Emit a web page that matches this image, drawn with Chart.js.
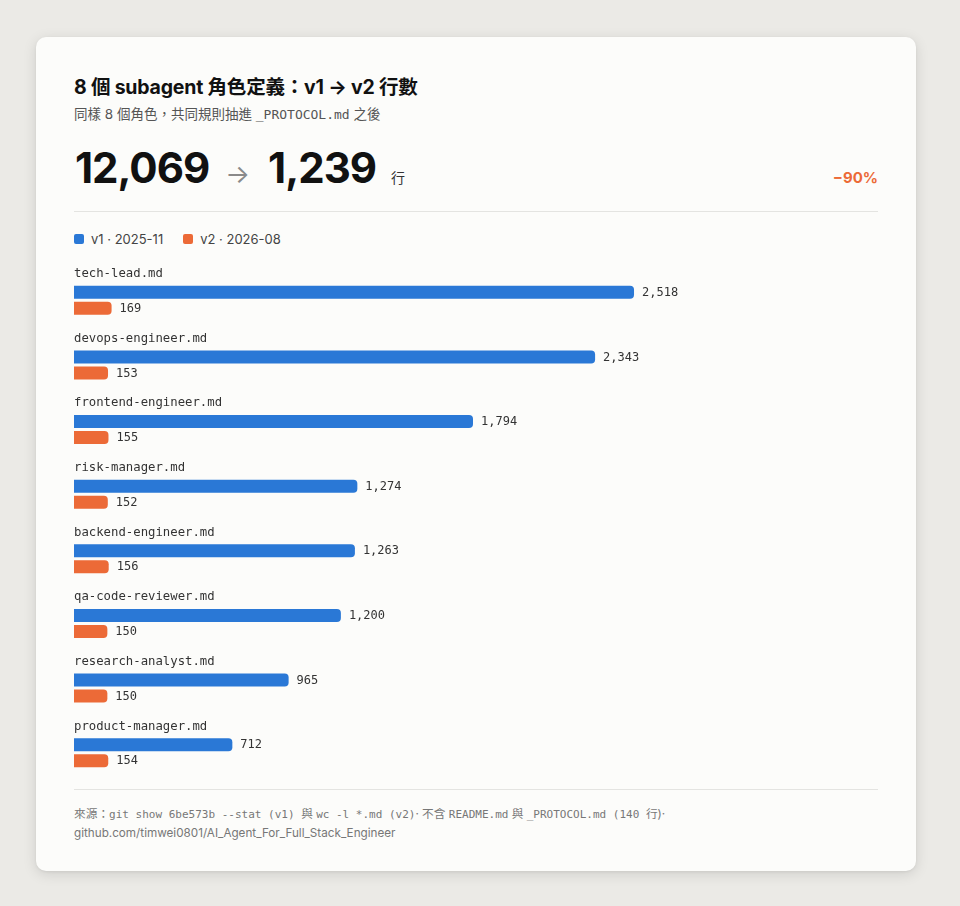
<!DOCTYPE html>
<html>
<head>
<meta charset="utf-8">
<script src="https://cdn.jsdelivr.net/npm/chart.js@4/dist/chart.umd.min.js"></script>
<style>
  html, body { margin: 0; padding: 0; }
  body {
    width: 960px; height: 906px; background: #ebeae6; position: relative;
    font-family: Inter, "Noto Sans CJK TC", sans-serif; color: #111;
  }
  .card {
    position: absolute; left: 36px; top: 37px; width: 880px; height: 834px;
    background: #fcfcfa; border-radius: 10px;
    box-shadow: 0 3px 14px rgba(0,0,0,0.12), 0 1px 3px rgba(0,0,0,0.06);
  }
  .mono { font-family: "DejaVu Sans Mono", "Noto Sans CJK TC", monospace; }
  .abs { position: absolute; }
  #title { left: 74px; top: 71px; font-size: 19.5px; font-weight: 700; letter-spacing: -0.2px; }
  #subtitle { left: 74px; top: 103px; font-size: 13.5px; color: #555; }
  #subtitle .mono { font-size: 13px; }
  #big { left: 75px; top: 142px; display: flex; align-items: baseline; white-space: nowrap; }
  #big .num { font-size: 42px; font-weight: 700; letter-spacing: -1.0px; }
  #big .arr { font-size: 26px; color: #8a8a8a; margin: 0 18px 0 16px; }
  #big .unit { font-size: 14px; color: #333; margin-left: 15px; }
  #pct { right: 82px; top: 168px; font-size: 15px; font-weight: 700; color: #ec6a37; }
  .rule { left: 74px; width: 804px; height: 1px; background: #e4e4e1; }
  #legend { left: 74px; top: 231px; display: flex; font-size: 13px; color: #444; }
  #legend span { display: flex; align-items: center; margin-right: 20px; }
  #legend i { display: inline-block; width: 10px; height: 10px; border-radius: 2px; margin-right: 7px; }
  #chartBox { left: 74px; top: 268px; width: 804px; height: 517px; }
  #foot { left: 74px; top: 805px; font-size: 11.7px; color: #777; line-height: 18px; }
  #foot .mono { font-size: 11px; }
</style>
</head>
<body>
<div class="card"></div>
<div id="title" class="abs">8 個 subagent 角色定義：v1 → v2 行數</div>
<div id="subtitle" class="abs">同樣 8 個角色，共同規則抽進 <span class="mono">_PROTOCOL.md</span> 之後</div>
<div id="big" class="abs"><span class="num">12,069</span><span class="arr">→</span><span class="num">1,239</span><span class="unit">行</span></div>
<div id="pct" class="abs">−90%</div>
<div class="abs rule" style="top:211px"></div>
<div id="legend" class="abs"></div>
<div id="chartBox" class="abs"><canvas id="chart" width="804" height="517"></canvas></div>
<div class="abs rule" style="top:789px"></div>
<div id="foot" class="abs">
  <div><span>來源：</span><span class="mono">git show 6be573b --stat (v1) </span>與 <span class="mono">wc -l *.md (v2)</span>· 不含 <span class="mono">README.md</span> 與 <span class="mono">_PROTOCOL.md (140 </span>行)·</div>
  <div>github.com/timwei0801/AI_Agent_For_Full_Stack_Engineer</div>
</div>

<script>
const files = ['tech-lead.md', 'devops-engineer.md', 'frontend-engineer.md', 'risk-manager.md',
  'backend-engineer.md', 'qa-code-reviewer.md', 'research-analyst.md', 'product-manager.md'];
const v1Lines = [2518, 2343, 1794, 1274, 1263, 1200, 965, 712];
const v2Lines = [169, 153, 155, 152, 156, 150, 150, 154];
const seriesNames = ['v1 · 2025-11', 'v2 · 2026-08'];
const seriesColors = ['#2a78d6', '#ec6a37'];

// legend
const legend = document.getElementById('legend');
seriesNames.forEach((name, i) => {
  legend.innerHTML += '<span><i style="background:' + seriesColors[i] + '"></i>' + name + '</span>';
});

const mono = '"DejaVu Sans Mono", monospace';

// file names above each group, values right of each bar
const labelPlugin = {
  id: 'labels',
  afterDatasetsDraw(chart) {
    const ctx = chart.ctx;
    const y = chart.scales.y;
    const band = y.getPixelForValue(1) - y.getPixelForValue(0);
    ctx.save();
    ctx.textBaseline = 'middle';
    ctx.fillStyle = '#333';
    ctx.font = '12.3px ' + mono;
    files.forEach((f, i) => {
      ctx.fillText(f, chart.chartArea.left, y.getPixelForValue(i) - band / 2 + 6);
    });
    ctx.font = '12px ' + mono;
    chart.data.datasets.forEach((ds, di) => {
      chart.getDatasetMeta(di).data.forEach((bar, i) => {
        ctx.fillText(ds.data[i].toLocaleString('en-US'), bar.x + 8, bar.y + 0.5);
      });
    });
    ctx.restore();
  }
};

new Chart(document.getElementById('chart'), {
  type: 'bar',
  data: {
    labels: files,
    datasets: [
      { label: seriesNames[0], data: v1Lines, backgroundColor: seriesColors[0] },
      { label: seriesNames[1], data: v2Lines, backgroundColor: seriesColors[1] }
    ]
  },
  options: {
    indexAxis: 'y',
    responsive: false,
    animation: false,
    layout: { padding: 0 },
    datasets: {
      bar: {
        barPercentage: 0.8125,
        categoryPercentage: 0.4956,
        borderRadius: 4,
        borderSkipped: 'start'
      }
    },
    plugins: { legend: { display: false }, tooltip: { enabled: false } },
    scales: {
      x: { display: false, min: 0, max: 3615 },
      y: { display: false }
    }
  },
  plugins: [labelPlugin]
});
</script>
</body>
</html>
